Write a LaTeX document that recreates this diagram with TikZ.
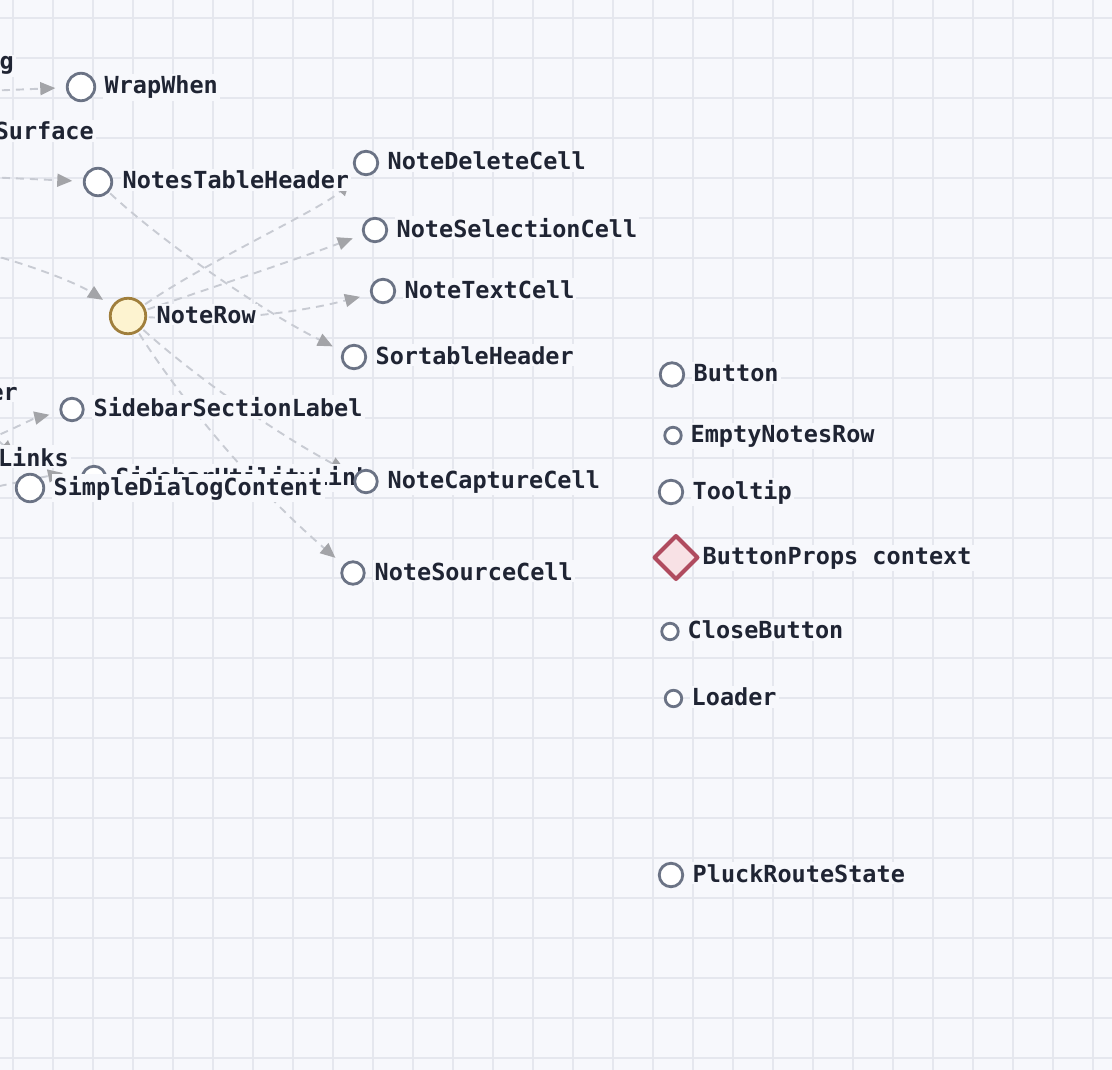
\documentclass[tikz,border=0pt]{standalone}
\usepackage{fontspec}
\newfontfamily\lblfont{DejaVu Sans Mono Bold}
\usetikzlibrary{arrows.meta,shapes.geometric}
\definecolor{bg}{HTML}{F7F8FC}
\definecolor{gridc}{HTML}{E5E7EE}
\definecolor{textc}{HTML}{1F2433}
\definecolor{nodec}{HTML}{6B7385}
\definecolor{edgec}{HTML}{C8CBD3}
\definecolor{arrc}{HTML}{A3A4A8}
\definecolor{rowfill}{HTML}{FDF3D0}
\definecolor{rowdraw}{HTML}{A07F3C}
\definecolor{dfill}{HTML}{F8E1E5}
\definecolor{ddraw}{HTML}{B04B5F}
\pgfdeclarelayer{gridlayer}
\pgfdeclarelayer{edgelayer}
\pgfsetlayers{gridlayer,edgelayer,main}
\tikzset{
  grd/.style={draw=gridc, line width=2pt},
  edge/.style={draw=edgec, line width=1.9pt, dash pattern=on 8pt off 6pt,
    -{Triangle[length=15pt,width=13pt,color=arrc]}, shorten >=12pt, shorten <=3pt},
  freeedge/.style={draw=edgec, line width=1.9pt, dash pattern=on 8pt off 6pt,
    -{Triangle[length=15pt,width=13pt,color=arrc]}},
  circ/.style={circle, draw=nodec, fill=white, line width=2.8pt, inner sep=0pt, outer sep=0pt},
  rowcirc/.style={circle, draw=rowdraw, fill=rowfill, line width=2.8pt, inner sep=0pt, outer sep=0pt},
  ctxdiamond/.style={diamond, draw=ddraw, fill=dfill, line width=4pt, line join=round, inner sep=0pt, outer sep=0pt},
  lbl/.style={anchor=base west, fill=bg, inner xsep=2pt, inner ysep=2pt, text=textc,
    font=\lblfont\fontsize{23.5}{26}\selectfont},
  lble/.style={lbl, anchor=base east}
}
\begin{document}
\begin{tikzpicture}[x=1pt,y=-1pt]
\useasboundingbox (0,0) rectangle (1112,1070);

% background and grid
\begin{pgfonlayer}{gridlayer}
\fill[bg] (0,0) rectangle (1112,1070);
\foreach \i in {0,...,27} \draw[grd] ({13+40*\i},0) -- ({13+40*\i},1070);
\foreach \j in {0,...,26} \draw[grd] (0,{18+40*\j}) -- (1112,{18+40*\j});
\end{pgfonlayer}

% nodes
\node[circ, minimum size=27.5pt] (wrapwhen) at (81,87) {};
\node[circ, minimum size=27.5pt] (nth) at (98,182) {};
\node[circ, minimum size=23.5pt] (ndc) at (366,163) {};
\node[circ, minimum size=23.5pt] (nsc) at (375,230) {};
\node[circ, minimum size=23.5pt] (ntc) at (383,291) {};
\node[circ, minimum size=23.5pt] (sh) at (354,357) {};
\node[rowcirc, minimum size=35.5pt] (nr) at (128,316) {};
\node[circ, minimum size=22.5pt] (ssl) at (72,409.5) {};
\node[circ, minimum size=22.5pt] (nsrc) at (353,573) {};
\node[circ, minimum size=23.5pt] (btn) at (672,374.5) {};
\node[circ, minimum size=16.5pt] (enr) at (673,435.5) {};
\node[circ, minimum size=23.5pt] (tt) at (671,492) {};
\node[ctxdiamond, minimum size=43pt] (bp) at (676,557.5) {};
\node[circ, minimum size=16.5pt] (cb) at (670,631.5) {};
\node[circ, minimum size=16.5pt] (ldr) at (673.5,698.5) {};
\node[circ, minimum size=23.5pt] (prs) at (671,875) {};

% labels
\node[lbl] (wrapwhen-l) at (102.5,94) {WrapWhen};
\node[lbl] (nth-l) at (120.5,189) {NotesTableHeader};
\node[lbl] (ndc-l) at (385.5,170) {NoteDeleteCell};
\node[lbl] (nsc-l) at (394.5,237) {NoteSelectionCell};
\node[lbl] (ntc-l) at (402.5,298) {NoteTextCell};
\node[lbl] (sh-l) at (373.5,364) {SortableHeader};
\node[lbl] (nr-l) at (154.5,323) {NoteRow};
\node[lbl] (ssl-l) at (91.5,416.5) {SidebarSectionLabel};
\node[lbl] (nsrc-l) at (372.5,580) {NoteSourceCell};
\node[lbl] (btn-l) at (691.5,381.5) {Button};
\node[lbl] (enr-l) at (688.5,442.5) {EmptyNotesRow};
\node[lbl] (tt-l) at (690.5,499) {Tooltip};
\node[lbl] (bp-l) at (700.5,564) {ButtonProps context};
\node[lbl] (cb-l) at (685.5,638.5) {CloseButton};
\node[lbl] (ldr-l) at (689.5,705.5) {Loader};
\node[lbl] (prs-l) at (690.5,882) {PluckRouteState};

% labels of nodes lying outside the view
\node[lble] (og-l) at (16,70) {g};
\node[lble] (osurf-l) at (96,140) {Surface};
\node[lble] (oer-l) at (20,400) {er};
\node[lble] (olinks-l) at (71,466) {Links};

% overlapping group, in drawing order
\node[circ, minimum size=23.5pt] (sul) at (94,478) {};
\node[lbl] (sul-l) at (113.5,485) {SidebarUtilityLink};
\node[circ, minimum size=27.5pt] (sdc) at (30,488) {};
\node[lbl] (sdc-l) at (51.5,495) {SimpleDialogContent};
\node[circ, minimum size=22.5pt] (ncc) at (366,481.5) {};
\node[lbl] (ncc-l) at (385.5,488.5) {NoteCaptureCell};

% free ends of edges coming from outside the view
\coordinate (s1) at (-15,91);
\coordinate (s2) at (-15,177);
\coordinate (s3) at (-15,253);
\coordinate (s10) at (-15,441);
\coordinate (s11) at (-12,432);
\coordinate (t11) at (15,455);
\coordinate (s12) at (-15,489);
\coordinate (t12) at (63,473);

% edges
\begin{pgfonlayer}{edgelayer}
\draw[edge] (s1) -- (wrapwhen);
\draw[edge] (s2) -- (nth);
\draw[edge] (s3) .. controls (40,268) and (80,285) .. (nr);
\draw[edge] (nth) .. controls (160,240) and (260,310) .. (sh);
\draw[edge] (nr) .. controls (211,259) and (326,207) .. (ndc);
\draw[edge] (nr) .. controls (220,285) and (300,258) .. (nsc);
\draw[edge] (nr) .. controls (230,322) and (300,312) .. (ntc);
\draw[edge] (nr) .. controls (190,372) and (270,430) .. (ncc);
\draw[edge] (nr) .. controls (175,390) and (245,480) .. (nsrc);
\draw[edge] (s10) .. controls (15,428) and (35,418) .. (ssl);
\draw[freeedge] (s11) -- (t11);
\draw[freeedge] (s12) -- (t12);
\end{pgfonlayer}
\end{tikzpicture}
\end{document}
